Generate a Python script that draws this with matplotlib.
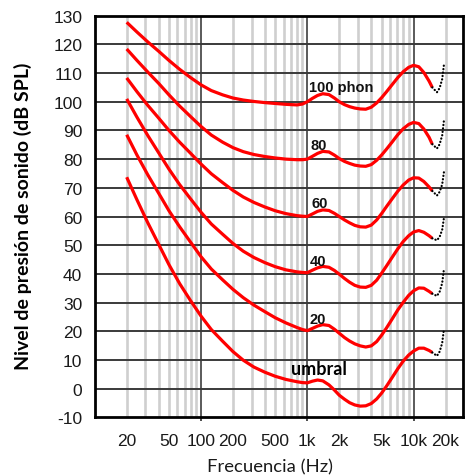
import matplotlib

matplotlib.use("Agg")
import matplotlib.pyplot as plt
from matplotlib.ticker import FixedLocator, FuncFormatter

plt.rcParams["axes.unicode_minus"] = False

# frequency grid (Hz): third-octave below 800 Hz, sixth-octave above
FREQ = [20, 25, 31.5, 40, 50, 63, 80, 100, 125, 160, 200, 250, 315, 400, 500, 630,
        800, 900, 1000, 1120, 1250, 1400, 1600, 1800, 2000, 2240, 2500, 2800, 3150,
        3550, 4000, 4500, 5000, 5600, 6300, 7100, 8000, 9000, 10000, 11200, 12500,
        14000, 15000]

# sound pressure level (dB SPL) along each contour
PHON_100 = [127.7, 124.3, 120.9, 117.6, 114.4, 111.3, 108.4, 105.9, 103.9, 102.4,
            101.3, 100.6, 100.1, 99.7, 99.4, 99.1,
            98.9, 99.2, 100.0, 101.2, 102.2, 102.8, 102.5, 101.3, 100.0, 99.0, 98.3,
            97.8, 97.5, 97.4, 98.1, 99.6, 101.4, 103.6, 106.0, 108.4, 110.5, 112.0,
            112.7, 112.2, 110.2, 107.2, 105.0]
PHON_80 = [118.4, 114.4, 110.4, 106.4, 102.4, 98.5, 94.8, 91.4, 88.4, 85.9,
           84.0, 82.6, 81.6, 80.9, 80.4, 80.0,
           79.8, 79.8, 80.0, 81.0, 82.0, 82.7, 82.5, 81.4, 80.2, 79.2, 78.5,
           77.9, 77.6, 77.5, 78.1, 79.6, 81.4, 83.6, 86.0, 88.5, 90.6, 92.1,
           92.8, 92.4, 90.5, 87.6, 85.2]
PHON_60 = [108.3, 103.5, 98.8, 94.3, 90.0, 85.9, 82.0, 78.3, 74.9, 71.8,
           69.1, 66.8, 64.9, 63.3, 62.0, 61.0,
           60.3, 60.1, 60.0, 60.9, 61.8, 62.3, 62.1, 61.1, 60.0, 58.8, 57.8,
           56.9, 56.4, 56.3, 57.0, 58.8, 61.0, 63.6, 66.2, 68.8, 71.0, 72.7,
           73.5, 73.4, 72.2, 70.3, 68.9]
PHON_40 = [101.0, 94.6, 88.3, 82.2, 76.5, 71.1, 66.1, 61.5, 57.4, 53.8,
           50.6, 47.9, 45.7, 43.9, 42.5, 41.4,
           40.7, 40.5, 40.4, 41.3, 42.1, 42.6, 42.3, 41.2, 39.9, 38.4, 37.1,
           36.0, 35.4, 35.3, 36.0, 37.8, 40.2, 42.9, 45.8, 48.7, 51.3, 53.3,
           54.6, 55.1, 54.5, 53.3, 52.4]
PHON_20 = [88.5, 81.4, 74.6, 68.1, 62.0, 56.4, 51.0, 46.0, 41.7, 37.9,
           34.6, 31.7, 29.1, 26.8, 24.7, 22.9,
           21.3, 20.6, 20.2, 21.0, 21.8, 22.3, 22.0, 20.7, 19.3, 17.8, 16.6,
           15.6, 14.9, 14.5, 14.9, 16.4, 18.6, 21.3, 24.3, 27.4, 30.1, 32.5,
           34.1, 35.1, 35.0, 33.9, 33.1]
UMBRAL = [73.7, 65.8, 57.9, 50.3, 43.2, 36.6, 30.6, 25.3, 20.6, 16.5,
          12.9, 9.9, 7.5, 5.7, 4.3, 3.2,
          2.4, 2.1, 2.0, 2.6, 3.0, 2.7, 1.3, -0.5, -2.3, -3.7, -4.9,
          -5.7, -6.1, -6.0, -5.2, -3.6, -1.6, 1.0, 3.9, 6.9, 9.6, 11.7,
          13.1, 14.1, 14.1, 13.3, 12.6]

# dotted extrapolation above 15 kHz
TAIL_FREQ = [15000, 16600, 17600, 18600, 19300]
TAIL_100 = [105.0, 103.3, 104.8, 107.9, 112.8]
TAIL_80 = [85.2, 83.7, 85.2, 88.3, 93.4]
TAIL_60 = [68.9, 67.3, 68.6, 71.2, 75.4]
TAIL_40 = [52.4, 51.7, 52.9, 55.4, 59.4]
TAIL_20 = [33.1, 32.3, 33.8, 36.8, 41.6]
TAIL_UMBRAL = [12.6, 11.4, 12.9, 15.9, 20.7]

# curve labels: text, left x (Hz), baseline (dB)
LABELS = [("100 phon", 1037, 103.6), ("80", 1083, 83.5), ("60", 1100, 63.4),
          ("40", 1060, 43.1), ("20", 1060, 22.8)]
UMBRAL_LABEL = ("umbral", 703, 5.0)

X_MAJOR = [100, 1000, 10000]
X_MAJOR_LABELS = ["100", "1k", "10k"]
X_MINOR_LABELS = {20: "20", 50: "50", 200: "200", 500: "500",
                  2000: "2k", 5000: "5k", 20000: "20k"}
Y_TICKS = list(range(-10, 131, 10))

TICK_FONT = "Liberation Sans"

W, H = 465, 477
fig = plt.figure(figsize=(W / 100, H / 100), dpi=100)
ax = fig.add_axes([94.7 / W, 1 - 418.3 / H, (462.7 - 94.7) / W, (418.3 - 16.7) / H])

ax.set_xscale("log")
ax.set_xlim(10, 29000)
ax.set_ylim(-10, 130)

# grid: light minor verticals, dark decades and dark level lines
minor_pos = [m * d for d in (10, 100, 1000) for m in range(2, 10)] + [20000]
for f in minor_pos:
    ax.axvline(f, color="#cfcfcf", lw=1.9, zorder=0)
for f in X_MAJOR:
    ax.axvline(f, color="#2e2e2e", lw=1.1, zorder=1)
for y in Y_TICKS[1:-1]:
    ax.axhline(y, color="#3a3a3a", lw=1.4, zorder=1)

curves = [(PHON_100, TAIL_100), (PHON_80, TAIL_80), (PHON_60, TAIL_60),
          (PHON_40, TAIL_40), (PHON_20, TAIL_20), (UMBRAL, TAIL_UMBRAL)]
for vals, tail in curves:
    ax.plot(FREQ, vals, color="#ff0000", lw=2.3, solid_capstyle="butt",
            solid_joinstyle="round", zorder=3)
    ax.plot(TAIL_FREQ, tail, color="black", lw=1.6, linestyle=(0, (0.1, 1.45)),
            dash_capstyle="round", zorder=3)

for text, fx, fy in LABELS:
    ax.text(fx, fy, text, ha="left", va="baseline", fontsize=10.5,
            fontweight="bold", family=TICK_FONT, color="#111111", zorder=4)
ax.text(UMBRAL_LABEL[1], UMBRAL_LABEL[2], UMBRAL_LABEL[0], ha="left",
        va="baseline", fontsize=13, fontweight="bold", family="Lato",
        color="black", zorder=4)

# axes ticks
ax.xaxis.set_major_locator(FixedLocator(X_MAJOR))
ax.xaxis.set_major_formatter(FuncFormatter(
    lambda v, p: X_MAJOR_LABELS[X_MAJOR.index(int(round(v)))] if int(round(v)) in X_MAJOR else ""))
ax.xaxis.set_minor_locator(FixedLocator(list(X_MINOR_LABELS)))
ax.xaxis.set_minor_formatter(FuncFormatter(
    lambda v, p: X_MINOR_LABELS.get(int(round(v)), "")))
ax.tick_params(axis="x", which="major", length=3, width=1.2, color="#2e2e2e",
               pad=8.5, labelsize=12.5)
ax.tick_params(axis="x", which="minor", length=0, pad=11.5, labelsize=12.5)
ax.set_yticks(Y_TICKS)
ax.set_yticklabels([str(v) for v in Y_TICKS])
ax.tick_params(axis="y", length=0, pad=9, labelsize=12.5)
for lab in ax.get_xticklabels(which="both") + ax.get_yticklabels():
    lab.set_family(TICK_FONT)
    lab.set_color("#1a1a1a")

for side in ("left", "right", "top", "bottom"):
    ax.spines[side].set_linewidth(2.0)
    ax.spines[side].set_color("black")
    ax.spines[side].set_zorder(5)

fig.text(23 / W, 1 - 216 / H, "Nivel de presión de sonido (dB SPL)", rotation=90,
         ha="center", va="center", fontsize=14, fontweight="bold", family="Lato",
         color="black")
fig.text(270 / W, 1 - 467 / H, "Frecuencia (Hz)", ha="center", va="center",
         fontsize=13.3, family="Lato", color="#1a1a1a")

fig.savefig("out.png", dpi=100)
